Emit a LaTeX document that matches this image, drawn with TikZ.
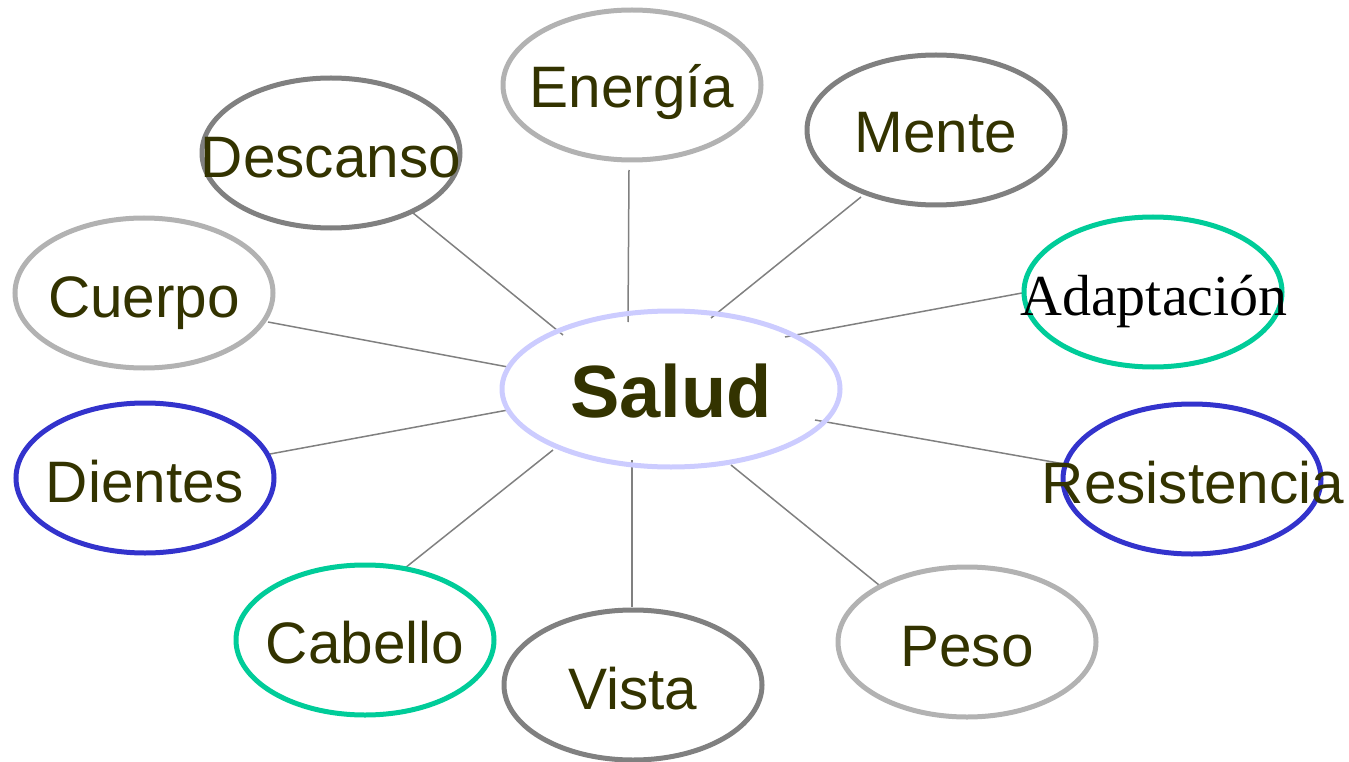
\documentclass[tikz,border=0pt]{standalone}
\usepackage{fontspec}
\setmainfont{Liberation Sans}
\newfontfamily\serifface{Liberation Serif}
\usetikzlibrary{shapes.geometric}
\definecolor{lgray}{HTML}{B2B2B2}
\definecolor{dgray}{HTML}{808080}
\definecolor{tealc}{HTML}{00CC99}
\definecolor{bluec}{HTML}{3333CC}
\definecolor{lav}{HTML}{CCCCFF}
\definecolor{olive}{HTML}{333300}
\begin{document}
\begin{tikzpicture}[x=1pt,y=-1pt,
  bub/.style={ellipse, draw, line width=5pt, minimum width=258pt, minimum height=150pt, inner sep=0pt},
  txt/.style={inner sep=0pt, font=\fontsize{58.5}{62}\selectfont, text=olive, text height=42pt, text depth=0pt},
  link/.style={draw=dgray, line width=1.5pt}]
\useasboundingbox (0,0) rectangle (1349,762);
% connector end points
\coordinate (o1) at (629,170);  \coordinate (h1) at (628,322);
\coordinate (o2) at (861,197);  \coordinate (h2) at (711,318);
\coordinate (o3) at (413,213);  \coordinate (h3) at (563,335);
\coordinate (o4) at (268,322);  \coordinate (h4) at (508,367);
\coordinate (o5) at (1022,293); \coordinate (h5) at (785,337);
\coordinate (o6) at (1070,465); \coordinate (h6) at (815,420);
\coordinate (o7) at (270,454);  \coordinate (h7) at (508,410);
\coordinate (o8) at (405,568);  \coordinate (h8) at (553,450);
\coordinate (o9) at (632,607);  \coordinate (h9) at (632,460);
\coordinate (o10) at (879,585); \coordinate (h10) at (731,465);
\foreach \i in {1,...,10} {\draw[link] (o\i) -- (h\i);}
% hub
\node[ellipse, draw=lav, line width=5pt, minimum width=338pt, minimum height=156pt, inner sep=0pt] (salud) at (671,389) {};
\node[inner sep=0pt, font=\fontsize{74}{80}\selectfont\bfseries, text=olive, text height=53pt, text depth=0pt] (salud-t) at (671,391) {Salud};
% satellites
\node[bub, draw=lgray] (energia) at (632,85) {};
\node[txt] (energia-t) at (632,87) {Energía};
\node[bub, draw=dgray] (mente) at (936,130) {};
\node[txt] (mente-t) at (936,132) {Mente};
\node[bub, draw=dgray] (descanso) at (331,153) {};
\node[txt] (descanso-t) at (331,157) {Descanso};
\node[bub, draw=lgray] (cuerpo) at (144,293) {};
\node[txt] (cuerpo-t) at (144,296) {Cuerpo};
\node[bub, draw=tealc] (adapt) at (1153,292) {};
\node[inner sep=0pt, font=\serifface\fontsize{58}{62}\selectfont, text=black, text height=39pt, text depth=0pt] (adapt-t) at (1154,296) {Adaptación};
\node[bub, draw=bluec] (resist) at (1192,479) {};
\node[txt] (resist-t) at (1193,482) {Resistencia};
\node[bub, draw=bluec] (dientes) at (145,478) {};
\node[txt] (dientes-t) at (145,481) {Dientes};
\node[bub, draw=tealc] (cabello) at (365,640) {};
\node[txt] (cabello-t) at (365,642) {Cabello};
\node[bub, draw=dgray] (vista) at (633,685) {};
\node[txt] (vista-t) at (633,688) {Vista};
\node[bub, draw=lgray] (peso) at (967,642) {};
\node[txt] (peso-t) at (967,645) {Peso};
\end{tikzpicture}
\end{document}
